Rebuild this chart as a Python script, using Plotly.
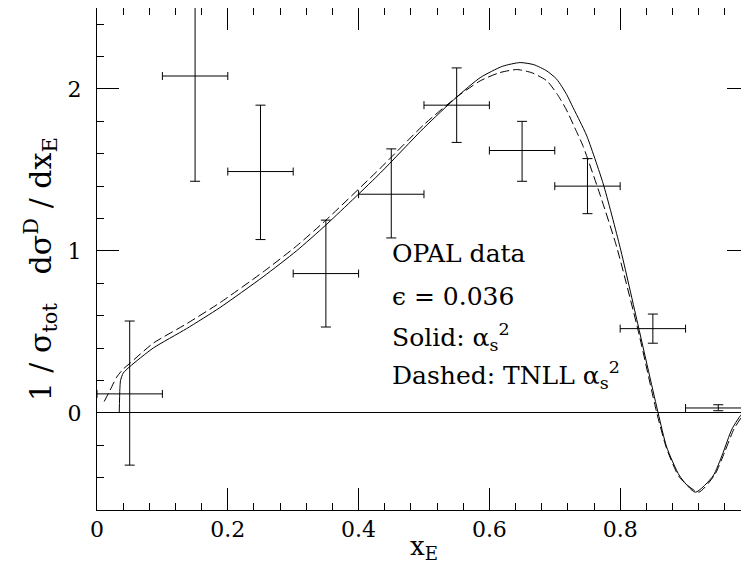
import plotly.graph_objects as go

# OPAL data (bins of width 0.1)
data_x = [0.05, 0.15, 0.25, 0.35, 0.45, 0.55, 0.65, 0.75, 0.85, 0.95]
data_y = [0.117, 2.08, 1.49, 0.86, 1.35, 1.90, 1.62, 1.40, 0.52, 0.03]
err_up = [0.45, 0.70, 0.41, 0.33, 0.28, 0.23, 0.18, 0.17, 0.09, 0.02]
err_dn = [0.44, 0.65, 0.42, 0.33, 0.27, 0.23, 0.19, 0.17, 0.09, 0.017]
bin_half = [0.05] * 10

# Solid: alpha_s^2
solid_x = [0.034, 0.035, 0.036, 0.04, 0.05, 0.086, 0.137, 0.188, 0.254, 0.305,
           0.35, 0.433, 0.50, 0.55, 0.586, 0.62, 0.647, 0.668, 0.688, 0.703,
           0.718, 0.728, 0.7385, 0.749, 0.774, 0.80, 0.828, 0.858, 0.871, 0.891,
           0.915, 0.942, 0.957, 0.971, 0.988, 1.0]
solid_y = [0.0, 0.15, 0.2, 0.245, 0.285, 0.40, 0.52, 0.65, 0.84, 1.00,
           1.16, 1.48, 1.76, 1.95, 2.07, 2.14, 2.163, 2.15, 2.111, 2.06,
           1.967, 1.885, 1.80, 1.71, 1.415, 1.02, 0.53, 0.0, -0.21, -0.39,
           -0.49, -0.39, -0.25, -0.10, 0.0, 0.0]

# Dashed: TNLL alpha_s^2
dash_x = [0.011, 0.02, 0.03, 0.04, 0.05, 0.086, 0.137, 0.188, 0.254, 0.305,
          0.35, 0.433, 0.50, 0.55, 0.586, 0.615, 0.642, 0.665, 0.688, 0.705,
          0.718, 0.734, 0.743, 0.769, 0.795, 0.828, 0.856, 0.871, 0.891, 0.92,
          0.945, 0.96, 0.974, 0.99]
dash_y = [0.07, 0.14, 0.22, 0.27, 0.305, 0.43, 0.55, 0.68, 0.87, 1.03,
          1.19, 1.51, 1.78, 1.95, 2.05, 2.10, 2.12, 2.10, 2.05, 1.96,
          1.87, 1.73, 1.65, 1.35, 1.02, 0.50, 0.0, -0.22, -0.40, -0.49,
          -0.38, -0.24, -0.10, 0.0]

x_tickvals = [0, 0.2, 0.4, 0.6, 0.8, 1.0]
x_ticktext = ["0", "0.2", "0.4", "0.6", "0.8", "1"]
y_tickvals = [0, 1, 2]
y_ticktext = ["0", "1", "2"]

labels = ["OPAL data", "\u03f5 = 0.036", "Solid: \u03b1<sub>s</sub><sup>2</sup>",
          "Dashed: TNLL \u03b1<sub>s</sub><sup>2</sup>"]
label_y = [0.985, 0.72, 0.47, 0.235]

FONT = "DejaVu Serif"
NB = "\u00a0"

fig = go.Figure()
fig.add_trace(go.Scatter(
    x=data_x, y=data_y, mode="markers",
    marker=dict(size=1, color="black", opacity=0),
    error_x=dict(type="data", array=bin_half, color="black", thickness=1, width=4),
    error_y=dict(type="data", symmetric=False, array=err_up, arrayminus=err_dn,
                 color="black", thickness=1, width=5),
    showlegend=False, hoverinfo="skip"))
fig.add_trace(go.Scatter(x=solid_x, y=solid_y, mode="lines",
                         line=dict(color="black", width=1, shape="spline", smoothing=0.6),
                         showlegend=False))
fig.add_trace(go.Scatter(x=dash_x, y=dash_y, mode="lines",
                         line=dict(color="black", width=1, dash="9px,4px",
                                   shape="spline", smoothing=0.6),
                         showlegend=False))

for t, yy in zip(labels, label_y):
    fig.add_annotation(x=0.448, y=yy, xref="x", yref="y", text=t, showarrow=False,
                       xanchor="left", yanchor="middle",
                       font=dict(family=FONT, size=25, color="black"))

ytitle = ("1" + NB + "/" + NB + "\u03c3<sub>tot</sub>" + NB * 3 + "d\u03c3<sup>D</sup>"
          + NB + "/" + NB + "dx<sub>E</sub>")
fig.add_annotation(x=-0.087, y=0.48, xref="paper", yref="paper", textangle=-90,
                   text=ytitle,
                   showarrow=False, xanchor="center", yanchor="middle",
                   font=dict(family=FONT, size=30, color="black"))
fig.add_annotation(x=0.5, y=-0.075, xref="x", yref="paper", text="x<sub>E</sub>",
                   showarrow=False, xanchor="center", yanchor="middle",
                   font=dict(family=FONT, size=26, color="black"))

axis_common = dict(showgrid=False, ticks="inside", tickcolor="black", tickwidth=1,
                   showline=True, linecolor="black", linewidth=1, mirror="ticks",
                   tickfont=dict(family=FONT, size=22, color="black"))
fig.update_xaxes(range=[0, 0.997], tickvals=x_tickvals, ticktext=x_ticktext,
                 ticklen=22, zeroline=False,
                 minor=dict(dtick=0.04, ticklen=7, ticks="inside", tickcolor="black"),
                 **axis_common)
fig.update_yaxes(range=[-0.6, 2.5], tickvals=y_tickvals, ticktext=y_ticktext,
                 ticklen=22, zeroline=True, zerolinecolor="black", zerolinewidth=1,
                 ticklabelstandoff=10,
                 minor=dict(dtick=0.2, ticklen=7, ticks="inside", tickcolor="black"),
                 **axis_common)
# page body adds an 8px offset; compensate in size and margins
fig.update_layout(width=741, height=569, margin=dict(l=89, r=0, t=0, b=67),
                  paper_bgcolor="white", plot_bgcolor="white",
                  font=dict(family=FONT, color="black"))
fig.write_html("out.html")
